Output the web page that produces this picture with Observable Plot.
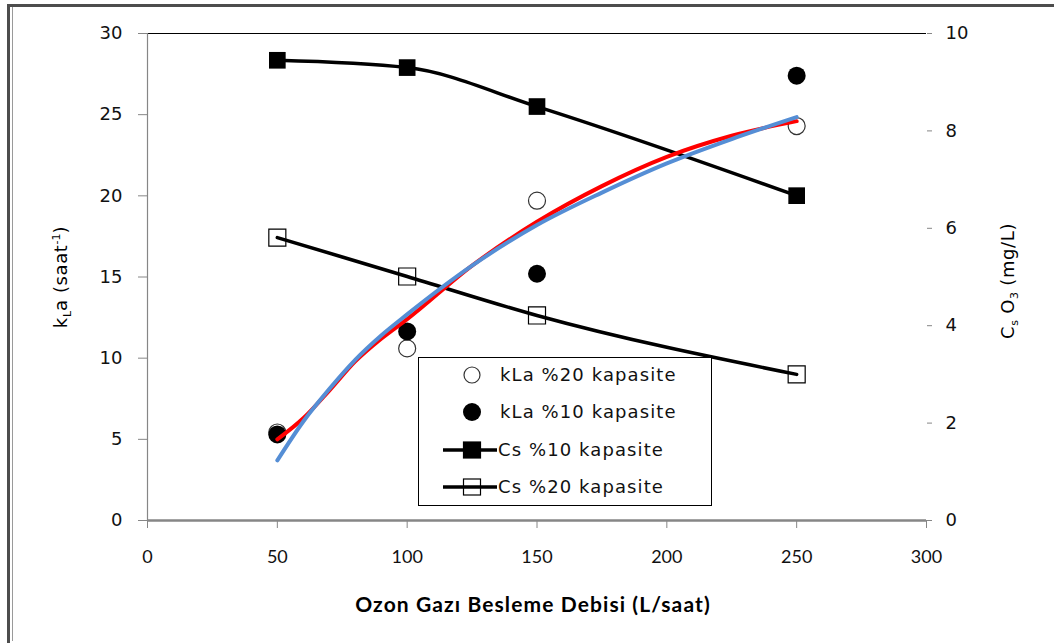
<!DOCTYPE html>
<html>
<head>
<meta charset="utf-8">
<script src="https://cdn.jsdelivr.net/npm/d3@7"></script>
<script src="https://cdn.jsdelivr.net/npm/@observablehq/plot@0.6"></script>
<style>
  html, body { margin: 0; padding: 0; background: #fff; }
  #wrap { position: relative; width: 1054px; height: 643px; overflow: hidden; background: #fff; }
  #chart { position: absolute; left: 0; top: 0; }
  .frame-outer { position: absolute; left: 7px; top: 4px; width: 1100px; height: 636px;
    border-left: 3px solid #4d4d4d; border-top: 3px solid #4d4d4d; border-bottom: 1px solid #9a9a9a; }
  .frame-inner { position: absolute; left: 12px; top: 7px; width: 1px; height: 634px; background: #9a9a9a; }
  .ytitle { position: absolute; font-family: "DejaVu Sans", sans-serif; font-size: 18px; color: #000;
    white-space: nowrap; transform: translate(-50%, -50%) rotate(-90deg); letter-spacing: 0.6px; }
  .ytitle sub, .ytitle sup { font-size: 11px; letter-spacing: 0; }
  .ytitle sub { vertical-align: -4px; }
  .ytitle sup { vertical-align: 7px; }
  .xtitle { position: absolute; left: 533px; top: 603px; transform: translate(-50%, -50%);
    font-family: Lato, "Open Sans", sans-serif; font-weight: bold; font-size: 21px; white-space: nowrap; letter-spacing: 1.1px; }
  #legend { position: absolute; left: 418px; top: 357px; }
</style>
</head>
<body>
<div id="wrap">
  <div class="frame-outer"></div>
  <div class="frame-inner"></div>
  <div id="chart"></div>
  <div class="ytitle" style="left:62px; top:277px;">k<sub>L</sub>a (saat<sup>-1</sup>)</div>
  <div class="ytitle" style="left:1009px; top:281px;">C<sub>s</sub> O<sub>3</sub> (mg/L)</div>
  <div class="xtitle">Ozon Gazı Besleme Debisi (L/saat)</div>
  <div id="legend"></div>
</div>
<script>
// Ozone feed flow rate (L/saat)
const flow = [50, 100, 150, 250];

// kLa (saat^-1), left axis
const kla20 = [5.42, 10.6, 19.7, 24.3];
const kla10 = [5.3, 11.65, 15.2, 27.4];

// Saturation ozone concentration Cs (mg/L), right axis
const cs10 = [9.45, 9.30, 8.50, 6.67];
const cs20 = [5.81, 5.01, 4.21, 3.00];

// Trend curves through the kLa points
const trendFlow = [50, 60, 70, 80, 90, 100, 125, 150, 175, 200, 225, 250];
const trendRed  = [5.0, 6.3, 8.0, 9.8, 11.2, 12.4, 15.7, 18.4, 20.6, 22.4, 23.7, 24.6];
const trendBlue = [3.7, 6.1, 8.1, 9.9, 11.4, 12.7, 15.7, 18.2, 20.2, 22.0, 23.5, 24.85];

// Axis ticks
const xTicks = [0, 50, 100, 150, 200, 250, 300];
const yLeftTicks = [0, 5, 10, 15, 20, 25, 30];
const yRightTicks = [0, 2, 4, 6, 8, 10];

// The right axis (0–10 mg/L) shares the left axis frame (0–30)
const rightToLeft = 30 / 10;

const AXIS_GRAY = "#868686";
const BLUE = "#558ed5";
const tickFont = "DejaVu Sans, sans-serif";

const pts = (ys) => flow.map((x, i) => ({x, y: ys[i]}));
const trend = (ys) => trendFlow.map((x, i) => ({x, y: ys[i]}));
const csPts = (ys) => flow.map((x, i) => ({x, y: ys[i] * rightToLeft}));

const chart = Plot.plot({
  width: 1054,
  height: 643,
  marginLeft: 147,
  marginRight: 128,
  marginTop: 33,
  marginBottom: 123,
  style: {background: "transparent", overflow: "visible"},
  x: {domain: [0, 300]},
  y: {domain: [0, 30]},
  marks: [
    // plot box top edge and axis lines
    Plot.ruleY([30], {stroke: "#000", strokeWidth: 1}),
    Plot.ruleX([0], {stroke: AXIS_GRAY, strokeWidth: 1.2}),
    // left axis
    Plot.axisY(yLeftTicks, {anchor: "left", tickSize: 9, tickPadding: 16, stroke: AXIS_GRAY,
      fill: "#111", fontSize: 18, fontFamily: tickFont, label: null}),
    // right axis, values in mg/L
    Plot.axisY(yRightTicks.map(v => v * rightToLeft), {anchor: "right", tickSize: 5, tickPadding: 14,
      stroke: AXIS_GRAY, fill: "#111", fontSize: 18, fontFamily: tickFont, label: null,
      tickFormat: d => String(Math.round(d / rightToLeft))}),
    // bottom axis
    Plot.axisX(xTicks, {anchor: "bottom", tickSize: 8, tickPadding: 22, stroke: AXIS_GRAY,
      fill: "#111", fontSize: 18, fontFamily: "Lato, sans-serif", label: null}),
    Plot.ruleY([0], {stroke: AXIS_GRAY, strokeWidth: 2.5}),

    // Cs lines
    Plot.line(csPts(cs10), {x: "x", y: "y", curve: "monotone-x", stroke: "#000", strokeWidth: 3.5}),
    Plot.line(csPts(cs20), {x: "x", y: "y", curve: "monotone-x", stroke: "#000", strokeWidth: 3.5}),
    Plot.dot(csPts(cs10), {x: "x", y: "y", symbol: "square", r: 9.4, fill: "#000"}),
    Plot.dot(csPts(cs20), {x: "x", y: "y", symbol: "square", r: 9.6, fill: "none", stroke: "#000", strokeWidth: 1.2}),

    // kLa points
    Plot.dot(pts(kla20), {x: "x", y: "y", r: 8.5, fill: "#fff", stroke: "#333", strokeWidth: 1.2}),
    Plot.dot(pts(kla10), {x: "x", y: "y", r: 9, fill: "#000"}),

    // trend curves
    Plot.line(trend(trendRed), {x: "x", y: "y", curve: "monotone-x", stroke: "#ff0000", strokeWidth: 4}),
    Plot.line(trend(trendBlue), {x: "x", y: "y", curve: "monotone-x", stroke: BLUE, strokeWidth: 4})
  ]
});
document.getElementById("chart").appendChild(chart);

// Legend box
const legendItems = [
  {label: "kLa %20 kapasite", kind: "openCircle"},
  {label: "kLa %10 kapasite", kind: "filledCircle"},
  {label: "Cs %10 kapasite", kind: "filledSquare"},
  {label: "Cs %20 kapasite", kind: "openSquare"}
];
const lw = 293, lh = 148;
const leg = d3.select("#legend").append("svg").attr("width", lw + 2).attr("height", lh + 2);
leg.append("rect").attr("x", 0.5).attr("y", 0.5).attr("width", lw).attr("height", lh)
  .attr("fill", "#fff").attr("stroke", "#000").attr("stroke-width", 1);
const rowY = [18, 55, 93, 130];
legendItems.forEach((item, i) => {
  const g = leg.append("g").attr("transform", `translate(0,${rowY[i]})`);
  const cx = 54;
  if (item.kind === "openCircle") {
    g.append("circle").attr("cx", cx).attr("cy", 0).attr("r", 8).attr("fill", "#fff").attr("stroke", "#333").attr("stroke-width", 1.2);
  } else if (item.kind === "filledCircle") {
    g.append("circle").attr("cx", cx).attr("cy", 0).attr("r", 9).attr("fill", "#000");
  } else {
    g.append("line").attr("x1", 25).attr("x2", 79).attr("y1", 0).attr("y2", 0).attr("stroke", "#000").attr("stroke-width", 3.5);
    g.append("rect").attr("x", cx - 8.5).attr("y", -8).attr("width", 17).attr("height", 16)
      .attr("fill", item.kind === "filledSquare" ? "#000" : "none").attr("stroke", "#000").attr("stroke-width", 1.2);
  }
  g.append("text").attr("x", item.kind.endsWith("Square") ? 80 : 82).attr("y", 0).attr("dy", "0.35em")
    .attr("font-family", tickFont).attr("font-size", 18).attr("letter-spacing", "1.1px").attr("fill", "#111")
    .text(item.label);
});
</script>
</body>
</html>
